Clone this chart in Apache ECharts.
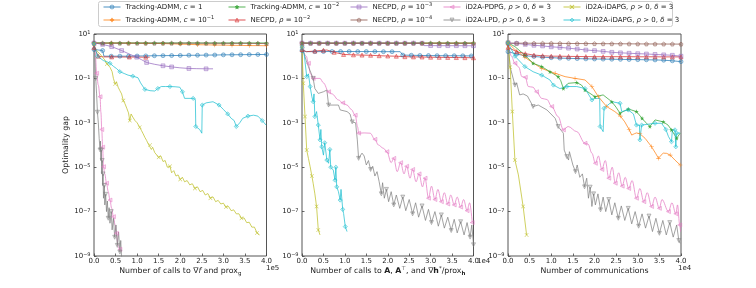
<!DOCTYPE html>
<html><head><meta charset="utf-8">
<script src="https://cdn.jsdelivr.net/npm/echarts@6/dist/echarts.min.js"></script>
<style>html,body{margin:0;padding:0;background:#fff}#c{width:756px;height:288px}</style>
</head><body><div id="c"></div>
<script>
// ---------- series names / colours ----------
const NAMES = ['Tracking-ADMM, c = 1','Tracking-ADMM, c = 1e-1','Tracking-ADMM, c = 1e-2',
  'NECPD, rho = 1e-2','NECPD, rho = 1e-3','NECPD, rho = 1e-4',
  'iD2A-PDPG','iD2A-LPD','iD2A-iDAPG','MiD2A-iDAPG'];
const LEGEND_TEXT = ['Tracking-ADMM, {i|c} = 1','Tracking-ADMM, {i|c} = 10{sup|−1}','Tracking-ADMM, {i|c} = 10{sup|−2}',
  'NECPD, {i|ρ} = 10{sup|−2}','NECPD, {i|ρ} = 10{sup|−3}','NECPD, {i|ρ} = 10{sup|−4}',
  'iD2A-PDPG, {i|ρ} > 0, {i|δ} = 3','iD2A-LPD, {i|ρ} > 0, {i|δ} = 3','iD2A-iDAPG, {i|ρ} > 0, {i|δ} = 3','MiD2A-iDAPG, {i|ρ} > 0, {i|δ} = 3'];
const COLORS = ['#1f77b4','#ff7f0e','#2ca02c','#d62728','#9467bd','#8c564b','#e377c2','#7f7f7f','#bcbd22','#17becf'];

// ---------- tick labels ----------
const X_TICKS = ['0.0','0.5','1.0','1.5','2.0','2.5','3.0','3.5','4.0'];
const Y_TICK_EXPONENTS = [-9,-7,-5,-3,-1,1];
const X_OFFSET_TEXT = ['1e5','1e4','1e4'];
const X_SCALE = [1e5,1e4,1e4];

// ---------- Panel 1 : x in units of 1e5 calls ----------
const p1_c1 = [[0,2.0],[0.1,1.9],[0.2,1.8],[0.23,1.0],[0.4,1.0],[0.6,1.0],[0.8,1.0],[1.0,1.02],[1.2,1.03],[1.4,1.05],[1.6,1.06],[1.8,1.07],[2.0,1.08],[2.2,1.1],[2.4,1.1],[2.6,1.12],[2.8,1.13],[3.0,1.15],[3.2,1.16],[3.4,1.17],[3.6,1.18],[3.8,1.19],[4.0,1.2]];
const p1_c01 = [[0,3.9],[0.2,3.9],[0.4,3.9],[0.6,3.9],[0.8,3.88],[1.0,3.85],[1.2,3.8],[1.4,3.75],[1.6,3.7],[1.8,3.6],[2.0,3.5],[2.2,3.4],[2.4,3.3],[2.6,3.25],[2.8,3.2],[3.0,3.15],[3.2,3.1],[3.4,3.05],[3.6,3.0],[3.8,3.0],[4.0,2.95]];
const p1_c001 = [[0,4.0],[0.2,3.95],[0.4,3.95],[0.6,3.95],[0.8,3.95],[1.0,3.95],[1.2,3.95],[1.4,3.95],[1.6,3.95],[1.8,3.95],[2.0,3.95],[2.2,3.95],[2.4,3.95],[2.6,3.95],[2.8,3.95],[3.0,3.95],[3.2,3.95],[3.4,3.95],[3.6,3.95],[3.8,3.95],[4.0,3.95]];
const p1_n2 = [[0,2.5],[0.05,1.6],[0.1,1.0],[0.22,0.93],[0.41,0.93],[0.6,0.92],[0.82,0.92],[1.0,0.91],[1.2,0.9],[1.29,0.9]];
const p1_n3 = [[0,3.9],[0.06,3.8],[0.2,3.4],[0.41,2.7],[0.64,1.8],[0.8,1.3],[0.99,0.9],[1.1,0.7],[1.22,0.52],[1.41,0.43],[1.6,0.37],[1.8,0.33],[1.99,0.3],[2.2,0.28],[2.37,0.275],[2.6,0.27],[2.76,0.27]];
const p1_n4 = [[0,3.85],[0.2,3.85],[0.4,3.85],[0.6,3.85],[0.8,3.85],[1.0,3.85],[1.2,3.85],[1.4,3.85],[1.6,3.85],[1.8,3.85],[2.0,3.85],[2.2,3.85],[2.4,3.85],[2.6,3.82],[2.8,3.82],[3.0,3.8],[3.2,3.8],[3.4,3.8],[3.6,3.78],[3.8,3.75],[4.0,3.7]];
const p1_pdpg = [[0,3.5],[0.03,1.5],[0.06,0.17],[0.1,0.05],[0.14,0.015],[0.16,3e-3],[0.18,5e-4],[0.2,8e-5],[0.22,1.05e-5],[0.25,5e-6],[0.29,1.9e-6],[0.33,8e-7],[0.37,3.3e-7],[0.41,1.4e-7],[0.45,5.9e-8],[0.49,2.5e-8],[0.52,1.05e-8],[0.56,2.6e-9],[0.6,2e-9]];
const p1_lpd = [[0,3.5],[0.02,1.0],[0.04,0.1],[0.06,0.02],[0.08,3e-3],[0.1,1e-3],[0.12,2e-4],[0.14,6e-5],[0.15,1.5e-4],[0.16,2e-5],[0.17,6e-5],[0.18,5e-6],[0.19,2e-5],[0.2,1.5e-6],[0.21,5e-6],[0.22,4e-7],[0.24,1.5e-6],[0.25,2e-7],[0.27,6e-7],[0.29,1e-7],[0.31,3e-7],[0.33,5e-8],[0.35,1.5e-7],[0.37,3e-8],[0.4,1e-7],[0.42,1.5e-8],[0.45,5e-8],[0.48,7e-9],[0.51,2.5e-8],[0.54,3e-9],[0.57,1.2e-8],[0.6,1.5e-9],[0.62,5e-9],[0.64,8e-10]];
const p1_idapg = [[0,3.55],[0.02,2.3],[0.08,1.6],[0.14,1.26],[0.2,0.89],[0.25,0.68],[0.3,0.45],[0.34,0.5],[0.37,0.32],[0.42,0.2],[0.45,0.1],[0.49,0.056],[0.52,0.071],[0.56,0.04],[0.6,0.028],[0.64,0.02],[0.68,0.01],[0.72,0.0071],[0.76,0.0045],[0.8,0.0028],[0.83,0.00126],[0.86,0.0025],[0.9,0.0018],[0.95,0.00126],[1.0,0.001],[1.06,6.3e-4],[1.1,4.5e-4],[1.14,3.2e-4],[1.18,2.2e-4],[1.22,1.6e-4],[1.26,1.1e-4],[1.3,1e-4],[1.33,6.3e-5],[1.36,7.9e-5],[1.41,4.5e-5],[1.45,5e-5],[1.5,2.8e-5],[1.55,3.2e-5],[1.6,1.8e-5],[1.65,2.0e-5],[1.7,1e-5],[1.76,1.1e-5],[1.8,5.6e-6],[1.85,7e-6],[1.9,4e-6],[1.95,4.5e-6],[2.0,2.8e-6],[2.05,3.5e-6],[2.1,2.2e-6],[2.16,2.5e-6],[2.22,1.6e-6],[2.28,1.8e-6],[2.34,1.1e-6],[2.4,1.3e-6],[2.46,7.9e-7],[2.52,9e-7],[2.58,5.6e-7],[2.64,6.5e-7],[2.7,4e-7],[2.76,4.6e-7],[2.82,2.8e-7],[2.88,3.2e-7],[2.94,2.2e-7],[3.0,2.4e-7],[3.06,1.6e-7],[3.12,1.7e-7],[3.18,1.1e-7],[3.24,1.2e-7],[3.3,7.9e-8],[3.36,8e-8],[3.42,5e-8],[3.48,5.2e-8],[3.54,3.2e-8],[3.6,3.3e-8],[3.66,2e-8],[3.72,2e-8],[3.78,1.1e-8],[3.84,8.9e-9]];
const p1_mid2a = [[0,3.55],[0.02,3.16],[0.08,1.0],[0.22,0.63],[0.3,0.56],[0.37,0.48],[0.45,0.35],[0.52,0.28],[0.6,0.2],[0.7,0.166],[0.79,0.14],[0.9,0.126],[1.02,0.107],[1.08,0.063],[1.18,0.032],[1.3,0.028],[1.41,0.027],[1.48,0.035],[1.56,0.043],[1.66,0.043],[1.76,0.043],[1.88,0.042],[1.99,0.04],[2.05,0.025],[2.1,0.0126],[2.18,0.0126],[2.3,0.0126],[2.35,0.0112],[2.36,6.8e-4],[2.45,5e-4],[2.5,3.4e-4],[2.51,0.0063],[2.6,0.0079],[2.76,0.0089],[2.9,0.0063],[3.0,0.004],[3.1,0.0025],[3.18,0.0016],[3.25,0.00126],[3.3,6.8e-4],[3.33,7.9e-4],[3.38,0.001],[3.45,0.0016],[3.57,0.002],[3.7,0.0022],[3.8,0.002],[3.9,0.00126],[3.99,7.9e-4]];

// ---------- Panel 2 : x in units of 1e4 calls ----------
const p2_c1 = [[0,1.8],[0.1,1.6],[0.3,1.6],[0.5,1.62],[0.7,1.63],[0.9,1.63],[1.1,1.63],[1.3,1.62],[1.5,1.62],[1.7,1.62],[1.9,1.6],[2.1,1.6],[2.29,1.6],[2.35,1.12],[2.55,1.1],[2.75,1.08],[2.95,1.07],[3.15,1.06],[3.35,1.05],[3.55,1.05],[3.75,1.04],[3.95,1.03],[4.0,1.03]];
const p2_c01 = [[0,3.9],[0.2,3.85],[0.4,3.85],[0.6,3.85],[0.8,3.85],[1.0,3.85],[1.2,3.85],[1.4,3.85],[1.6,3.85],[1.8,3.85],[2.0,3.85],[2.2,3.85],[2.4,3.85],[2.6,3.85],[2.8,3.85],[3.0,3.85],[3.2,3.85],[3.4,3.85],[3.6,3.85],[3.8,3.85],[4.0,3.85]];
const p2_c001 = [[0,3.9],[0.2,3.9],[0.4,3.9],[0.6,3.9],[0.8,3.9],[1.0,3.9],[1.2,3.9],[1.4,3.9],[1.6,3.9],[1.8,3.9],[2.0,3.9],[2.2,3.9],[2.4,3.9],[2.6,3.9],[2.8,3.9],[3.0,3.9],[3.2,3.9],[3.4,3.9],[3.6,3.9],[3.8,3.9],[4.0,3.9]];
const p2_n2 = [[0,2.0],[0.1,1.6],[0.3,1.7],[0.5,1.85],[0.58,1.9],[0.75,1.5],[0.97,1.2],[1.2,1.15],[1.4,1.12],[1.6,1.1],[1.8,1.05],[2.0,1.02],[2.2,1.0],[2.4,0.95],[2.6,0.93],[2.8,0.92],[3.0,0.9],[3.2,0.89],[3.4,0.88],[3.6,0.87],[3.8,0.86],[4.0,0.85]];
const p2_n3 = [[0,3.9],[0.2,3.85],[0.4,3.85],[0.6,3.85],[0.8,3.85],[1.0,3.85],[1.2,3.85],[1.4,3.85],[1.6,3.85],[1.8,3.85],[2.0,3.85],[2.2,3.85],[2.4,3.85],[2.6,3.85],[2.8,3.85],[2.85,3.0],[3.0,3.0],[3.2,2.98],[3.4,2.98],[3.6,2.97],[3.8,2.96],[4.0,2.95]];
const p2_n4 = [[0,3.9],[0.2,3.85],[0.4,3.85],[0.6,3.85],[0.8,3.85],[1.0,3.85],[1.2,3.85],[1.4,3.85],[1.6,3.85],[1.8,3.85],[2.0,3.85],[2.2,3.85],[2.4,3.85],[2.6,3.85],[2.8,3.85],[3.0,3.85],[3.2,3.85],[3.4,3.85],[3.6,3.85],[3.8,3.85],[4.0,3.85]];
const p2_pdpg = [[0,2.5],[0.1,1.0],[0.15,0.48],[0.19,0.17],[0.26,0.1],[0.42,0.1],[0.5,0.063],[0.62,0.025],[0.7,0.02],[0.85,0.0107],[0.95,0.0079],[1.05,0.0063],[1.15,0.004],[1.24,0.0022],[1.3,6.3e-4],[1.32,3.4e-4],[1.45,3.5e-4],[1.59,3.4e-4],[1.7,1.8e-4],[1.78,1e-4],[1.9,7.1e-5],[1.98,5e-5],[2.08,1.6e-5],[2.14,2.5e-5],[2.22,6.3e-6],[2.3,1.6e-5],[2.38,5e-6],[2.44,1.1e-5],[2.52,3.2e-6],[2.58,7.9e-6],[2.66,2.2e-6],[2.73,5e-6],[2.81,1.3e-6],[2.87,3.2e-6],[2.95,4e-7],[3.02,1.4e-6],[3.1,3.5e-7],[3.17,1e-6],[3.25,2.8e-7],[3.32,7.1e-7],[3.4,2.2e-7],[3.47,5.6e-7],[3.55,2e-7],[3.62,4.5e-7],[3.7,1.6e-7],[3.77,3.5e-7],[3.85,1.1e-7],[3.91,2.5e-7],[3.97,3.2e-8]];
const p2_lpd = [[0,2.5],[0.1,0.63],[0.15,0.34],[0.26,0.1],[0.3,0.035],[0.38,0.021],[0.5,0.025],[0.58,0.03],[0.62,0.0063],[0.75,0.0063],[0.85,0.0063],[0.89,0.0038],[1.05,0.0032],[1.12,0.0025],[1.17,0.0011],[1.25,0.001],[1.29,1.7e-4],[1.32,2.5e-5],[1.35,2.1e-5],[1.4,4.3e-5],[1.45,3.2e-5],[1.5,1.26e-5],[1.55,2e-5],[1.6,7.9e-6],[1.65,1.1e-5],[1.7,4e-6],[1.75,6.3e-6],[1.8,2.2e-6],[1.85,6.3e-7],[1.88,2e-6],[1.92,4e-7],[1.97,1e-6],[2.02,2.8e-7],[2.08,7.9e-7],[2.14,2e-7],[2.2,5.6e-7],[2.28,1.4e-7],[2.35,4.5e-7],[2.42,1.1e-7],[2.5,3.5e-7],[2.58,7.9e-8],[2.65,2.5e-7],[2.72,5.6e-8],[2.8,1.8e-7],[2.88,4e-8],[2.95,1.26e-7],[3.02,3.2e-8],[3.1,1e-7],[3.18,2.2e-8],[3.25,7.1e-8],[3.32,1.8e-8],[3.4,5.6e-8],[3.48,1.4e-8],[3.55,4.5e-8],[3.62,1.1e-8],[3.7,3.5e-8],[3.78,8.9e-9],[3.85,3.2e-8],[3.92,7.1e-9],[3.96,2.5e-8],[4.0,3.2e-9]];
const p2_idapg = [[0,2.5],[0.03,0.06],[0.07,0.0019],[0.11,5.9e-5],[0.15,2.5e-5],[0.19,1.05e-5],[0.23,4e-6],[0.26,1.9e-6],[0.3,6.3e-7],[0.34,1.7e-7],[0.38,1.5e-8],[0.42,8.9e-9]];
const p2_mid2a = [[0,2.5],[0.05,1.26],[0.11,0.12],[0.15,0.16],[0.19,0.043],[0.23,0.015],[0.26,0.0089],[0.28,0.02],[0.3,0.0019],[0.34,0.0032],[0.38,7.9e-4],[0.42,1.7e-4],[0.44,5e-4],[0.46,8.3e-5],[0.5,3.5e-5],[0.53,1.26e-4],[0.58,2.1e-5],[0.62,1.5e-5],[0.65,6.3e-5],[0.67,1e-5],[0.73,7.4e-6],[0.77,2.6e-6],[0.79,1e-5],[0.81,1.3e-6],[0.85,7.9e-7],[0.89,3.3e-7],[0.91,1e-6],[0.95,1.26e-7],[0.97,8.3e-8],[1.01,2.1e-8],[1.05,1.26e-8]];

// ---------- Panel 3 : x in units of 1e4 communications ----------
const p3_c1 = [[0,1.6],[0.2,1.25],[0.4,1.05],[0.6,0.97],[0.8,0.9],[1.0,0.86],[1.2,0.82],[1.4,0.8],[1.6,0.78],[1.8,0.76],[2.0,0.75],[2.2,0.74],[2.4,0.73],[2.6,0.72],[2.8,0.71],[3.0,0.7],[3.2,0.69],[3.4,0.68],[3.6,0.66],[3.8,0.62],[4.0,0.57]];
const p3_c01 = [[0,3.98],[0.16,2.0],[0.39,0.89],[0.58,0.5],[0.78,0.28],[0.95,0.21],[1.09,0.17],[1.32,0.12],[1.55,0.1],[1.78,0.085],[1.94,0.043],[2.09,0.015],[2.28,0.0054],[2.47,0.0032],[2.6,0.002],[2.7,0.0011],[2.8,5e-4],[2.86,2.8e-4],[2.92,3.2e-4],[2.97,3.5e-4],[3.05,3.2e-4],[3.17,2e-4],[3.32,8.3e-5],[3.42,4e-5],[3.48,2.5e-5],[3.54,3.5e-5],[3.59,4.3e-5],[3.67,4.2e-5],[3.75,3.5e-5],[3.86,2.1e-5],[3.98,1.26e-5]];
const p3_c001 = [[0,3.98],[0.16,2.7],[0.39,1.12],[0.58,0.48],[0.78,0.34],[0.97,0.2],[1.16,0.12],[1.22,0.079],[1.28,0.035],[1.39,0.06],[1.59,0.065],[1.7,0.05],[1.78,0.03],[2.01,0.015],[2.2,0.018],[2.4,0.0089],[2.5,0.005],[2.59,0.0027],[2.7,0.0035],[2.78,0.0042],[2.97,0.0032],[3.1,0.0016],[3.17,0.0011],[3.28,6.8e-4],[3.4,0.00135],[3.59,0.0011],[3.7,7.9e-4],[3.78,4.8e-4],[3.9,2e-4],[3.98,3.4e-4]];
const p3_n2 = [[0,2.5],[0.2,1.6],[0.4,1.3],[0.6,1.12],[0.8,1.05],[1.0,1.0],[1.2,1.0],[1.4,0.98],[1.6,0.97],[1.8,0.96],[2.0,0.95],[2.2,0.95],[2.4,0.95],[2.6,0.95],[2.8,0.95],[3.0,0.94],[3.2,0.94],[3.4,0.94],[3.6,0.93],[3.8,0.93],[4.0,0.93]];
const p3_n3 = [[0,3.9],[0.2,3.75],[0.4,3.4],[0.6,3.1],[0.8,2.9],[1.0,2.65],[1.2,2.5],[1.4,2.3],[1.6,2.1],[1.8,1.9],[2.0,1.78],[2.2,1.65],[2.4,1.5],[2.6,1.42],[2.8,1.36],[3.0,1.3],[3.2,1.26],[3.4,1.2],[3.6,1.15],[3.8,1.1],[4.0,1.0]];
const p3_n4 = [[0,3.85],[0.2,3.85],[0.4,3.85],[0.6,3.82],[0.8,3.8],[1.0,3.8],[1.2,3.78],[1.4,3.75],[1.6,3.72],[1.8,3.7],[2.0,3.68],[2.2,3.66],[2.4,3.64],[2.6,3.62],[2.8,3.6],[3.0,3.58],[3.2,3.56],[3.4,3.55],[3.6,3.53],[3.8,3.52],[4.0,3.5]];
const p3_pdpg = [[0,3.98],[0.08,1.0],[0.16,0.48],[0.25,0.32],[0.32,0.12],[0.4,0.112],[0.47,0.043],[0.58,0.04],[0.66,0.025],[0.78,0.0126],[0.9,0.0112],[1.01,0.0054],[1.16,0.0019],[1.28,4.8e-4],[1.39,6.8e-4],[1.59,4e-4],[1.78,1.2e-4],[1.85,1.1e-4],[1.94,4.3e-5],[2.02,1.5e-5],[2.09,3.2e-5],[2.17,7.9e-6],[2.25,2e-5],[2.33,3.2e-6],[2.41,1e-5],[2.48,1.9e-6],[2.56,5.6e-6],[2.64,1.4e-6],[2.71,3.5e-6],[2.79,1.1e-6],[2.87,2.5e-6],[2.97,4e-7],[3.05,1.1e-6],[3.14,2.8e-7],[3.22,7.1e-7],[3.32,1.7e-7],[3.4,4.5e-7],[3.5,1.4e-7],[3.56,3.5e-7],[3.71,1e-7],[3.79,2.5e-7],[3.88,8e-8],[3.92,2e-7],[3.97,2.5e-8],[3.99,1.26e-8]];
const p3_lpd = [[0,3.98],[0.05,0.32],[0.16,0.05],[0.2,0.063],[0.27,0.018],[0.35,0.02],[0.45,0.016],[0.58,0.0054],[0.7,0.0063],[0.9,0.0038],[1.09,0.0016],[1.16,6.8e-4],[1.28,3.4e-4],[1.3,5.9e-5],[1.36,3e-5],[1.4,2.1e-5],[1.42,5e-5],[1.5,1.26e-5],[1.56,6.3e-6],[1.6,1.26e-5],[1.66,3.5e-6],[1.72,5e-6],[1.77,1.3e-6],[1.82,3.2e-6],[1.86,4e-7],[1.9,1.26e-6],[1.94,1.7e-7],[1.98,6.3e-7],[2.02,2e-7],[2.08,6.3e-7],[2.14,1.2e-7],[2.2,4.5e-7],[2.26,1e-7],[2.33,3.5e-7],[2.4,7.1e-8],[2.47,2.5e-7],[2.55,5e-8],[2.62,1.8e-7],[2.7,4e-8],[2.78,1.4e-7],[2.86,2.8e-8],[2.94,1e-7],[3.02,2.2e-8],[3.1,7.9e-8],[3.18,1.8e-8],[3.26,6.3e-8],[3.34,1.26e-8],[3.42,5e-8],[3.5,1.05e-8],[3.58,4e-8],[3.66,8.9e-9],[3.74,3.2e-8],[3.82,7.1e-9],[3.9,2.5e-8],[3.95,5e-9],[3.98,3.7e-9]];
const p3_idapg = [[0,3.98],[0.05,0.32],[0.1,0.0032],[0.16,2.1e-5],[0.24,4.5e-6],[0.35,1.7e-7],[0.43,8.9e-9]];
const p3_mid2a = [[0,3.98],[0.16,1.0],[0.39,0.34],[0.58,0.2],[0.78,0.14],[0.97,0.085],[1.05,0.05],[1.2,0.035],[1.36,0.043],[1.59,0.043],[1.78,0.035],[1.94,0.0107],[2.01,0.0126],[2.12,0.0126],[2.13,6.8e-4],[2.2,4e-4],[2.22,0.0045],[2.4,0.0089],[2.59,0.0076],[2.63,0.0032],[2.78,0.0038],[2.9,0.0025],[2.97,7.9e-4],[3.04,7.9e-4],[3.05,1.7e-4],[3.09,7.9e-4],[3.4,9.5e-4],[3.55,9.5e-4],[3.65,5e-4],[3.71,2.4e-4],[3.78,1.4e-4],[3.8,4.8e-4],[3.86,4.8e-4],[3.88,8.3e-5],[3.9,3.4e-4],[3.98,3.5e-4]];

const PANELS = [
  [p1_c1,p1_c01,p1_c001,p1_n2,p1_n3,p1_n4,p1_pdpg,p1_lpd,p1_idapg,p1_mid2a],
  [p2_c1,p2_c01,p2_c001,p2_n2,p2_n3,p2_n4,p2_pdpg,p2_lpd,p2_idapg,p2_mid2a],
  [p3_c1,p3_c01,p3_c001,p3_n2,p3_n3,p3_n4,p3_pdpg,p3_lpd,p3_idapg,p3_mid2a]
];

// ---------- styles ----------
const FONT = 'DejaVu Sans';
const GRIDS = [{left:94,width:172.5},{left:302,width:171.5},{left:508,width:173}];
const PLOT_TOP = 34, PLOT_H = 222;
const PLUS = 'path://M4.4,0H5.6V4.4H10V5.6H5.6V10H4.4V5.6H0V4.4H4.4Z';
const XMARK = 'path://M0,0.9L0.9,0L5,4.1L9.1,0L10,0.9L5.9,5L10,9.1L9.1,10L5,5.9L0.9,10L0,9.1L4.1,5Z';
const STAR = 'path://M5,0L6.2,3.6L10,3.6L6.9,5.9L8.1,9.5L5,7.3L1.9,9.5L3.1,5.9L0,3.6L3.8,3.6Z';
const PENT = 'path://M5,0L10,3.8L8.1,10L1.9,10L0,3.8Z';
const SYMBOLS = ['circle',PLUS,STAR,'triangle','rect',PENT,'triangle','triangle',XMARK,'diamond'];
const ROTATE = [0,0,0,0,0,0,90,180,0,0];
const SIZES = [4,4.5,4.5,4,3.8,4,4,4,4,4.2];
const SOLID = [false,true,true,false,false,false,false,false,true,false];
const MARK_EVERY = [8.5,12,8.5,8.5,8.5,8.5,16,30,20,12];
const SMOOTH = [0,0,0,0,0,0,0.35,0,0,0];

function rgba(hex,a){const n=parseInt(hex.slice(1),16);return `rgba(${n>>16},${(n>>8)&255},${n&255},${a})`;}
function buildData(pts,p,every,size){
  const pxX = GRIDS[p].width/4, pxDec = PLOT_H/10;
  let acc = every, prev = null;
  return pts.map(pt=>{
    if(prev){acc += Math.hypot((pt[0]-prev[0])*pxX,(Math.log10(pt[1])-Math.log10(prev[1]))*pxDec);}
    prev = pt;
    let show = false;
    if(acc >= every){show = true; acc = 0;}
    return {value:[pt[0]*X_SCALE[p], pt[1]], symbolSize: show ? size : 0};
  });
}

const series = [];
PANELS.forEach((arrs,p)=>arrs.forEach((pts,k)=>{
  series.push({
    type:'line', name:NAMES[k], xAxisIndex:p, yAxisIndex:p,
    data: buildData(pts,p,MARK_EVERY[k],SIZES[k]),
    symbol:SYMBOLS[k], symbolRotate:ROTATE[k], symbolSize:SIZES[k], showSymbol:true,
    smooth:SMOOTH[k], smoothMonotone:'x',
    clip:true, silent:true, animation:false,
    color:COLORS[k],
    lineStyle:{color:COLORS[k], width:0.9, opacity:0.8},
    itemStyle:{color: SOLID[k] ? rgba(COLORS[k],0.8) : rgba(COLORS[k],0.25), borderColor:rgba(COLORS[k],0.8), borderWidth: SOLID[k] ? 0 : 0.6},
    emphasis:{disabled:true}
  });
}));

const baseText = {fontSize:7, fontFamily:FONT, color:'#222'};
const nameText = {fontSize:7.8, fontFamily:FONT, color:'#222'};
const rich = {
  sup:{fontSize:5, fontFamily:FONT, color:'#222', verticalAlign:'top', lineHeight:5},
  sub:{fontSize:5, fontFamily:FONT, color:'#222', verticalAlign:'bottom', lineHeight:5},
  i:{fontSize:7, fontFamily:FONT, color:'#222', fontStyle:'italic', lineHeight:10}
};
const nameRich = {
  sup:{fontSize:5.5, fontFamily:FONT, color:'#222', verticalAlign:'top', lineHeight:5.5},
  sub:{fontSize:5.5, fontFamily:FONT, color:'#222', verticalAlign:'bottom', lineHeight:5.5},
  subb:{fontSize:5.5, fontFamily:FONT, color:'#222', fontWeight:'bold', verticalAlign:'bottom', lineHeight:5.5},
  i:{fontSize:7.8, fontFamily:FONT, color:'#222', fontStyle:'italic', lineHeight:11},
  b:{fontSize:7.8, fontFamily:FONT, color:'#222', fontWeight:'bold', lineHeight:11}
};
const XNAMES = ['Number of calls to ∇{i|f} and prox{sub|g}',
  'Number of calls to {b|A}, {b|A}{sup|⊤}, and ∇{b|h}{sup|*}/prox{subb|h}',
  'Number of communications'];

function yFmt(v){
  const e = Math.round(Math.log10(v));
  if(Y_TICK_EXPONENTS.indexOf(e) < 0) return '';
  return '10{sup|' + (e<0 ? '−'+(-e) : e) + '}';
}

const LEG_COLS = [[0,1],[2,3],[4,5],[6,7],[8,9]];
const LEG_X = [103,228,350,443,563];

const option = {
  animation:false,
  backgroundColor:'#fff',
  grid: GRIDS.map(g=>({left:g.left, width:g.width, top:PLOT_TOP, height:PLOT_H, show:true, borderColor:'#555', borderWidth:1, backgroundColor:'transparent'})),
  xAxis: [0,1,2].map(p=>({
    type:'value', gridIndex:p, min:0, max:4*X_SCALE[p], interval:0.5*X_SCALE[p],
    axisLine:{show:false}, splitLine:{show:false},
    axisTick:{show:true, inside:true, length:2.5, lineStyle:{color:'#444', width:0.8}},
    axisLabel:Object.assign({margin:2, formatter:(v)=>X_TICKS[Math.round(v/(0.5*X_SCALE[p]))]}, baseText),
    name:XNAMES[p], nameLocation:'middle', nameGap:9.5, nameMoveOverlap:false,
    nameTextStyle:Object.assign({rich:nameRich, lineHeight:11}, nameText)
  })),
  yAxis: [0,1,2].map(p=>({
    type:'log', logBase:10, gridIndex:p, min:1e-9, max:10, interval:2,
    axisLine:{show:false}, splitLine:{show:false}, minorTick:{show:false},
    axisTick:{show:true, inside:true, length:2.5, lineStyle:{color:'#444', width:0.8}},
    axisLabel:Object.assign({margin:3.5, formatter:yFmt, rich:rich}, baseText),
    name: p===0 ? 'Optimality gap' : '', nameLocation:'middle', nameGap:24, nameMoveOverlap:false,
    nameTextStyle:nameText
  })),
  legend: LEG_COLS.map((ids,i)=>({
    data: ids.map(k=>NAMES[k]), orient:'vertical', left:LEG_X[i], top:2,
    itemWidth:17, itemHeight:5, itemGap:3, padding:0, selectedMode:false,
    lineStyle:{width:1}, itemStyle:{borderWidth:0.6},
    textStyle:Object.assign({rich:rich, lineHeight:9}, baseText),
    formatter:(name)=>LEGEND_TEXT[NAMES.indexOf(name)]
  })),
  graphic: [
    {type:'rect', z:-10, shape:{x:98.5,y:1.5,width:574,height:25,r:2}, style:{fill:'#fff', stroke:'#cccccc', lineWidth:1}},
    {type:'text', x:266, y:268, style:{text:X_OFFSET_TEXT[0], fontSize:7, fontFamily:FONT, fill:'#222', verticalAlign:'middle'}},
    {type:'text', x:477, y:261, style:{text:X_OFFSET_TEXT[1], fontSize:7, fontFamily:FONT, fill:'#222', verticalAlign:'middle'}},
    {type:'text', x:678, y:268, style:{text:X_OFFSET_TEXT[2], fontSize:7, fontFamily:FONT, fill:'#222', verticalAlign:'middle'}}
  ],
  series: series
};
const chart = echarts.init(document.getElementById('c'), null, {renderer:'canvas'});
chart.setOption(option);
</script>
</body></html>
